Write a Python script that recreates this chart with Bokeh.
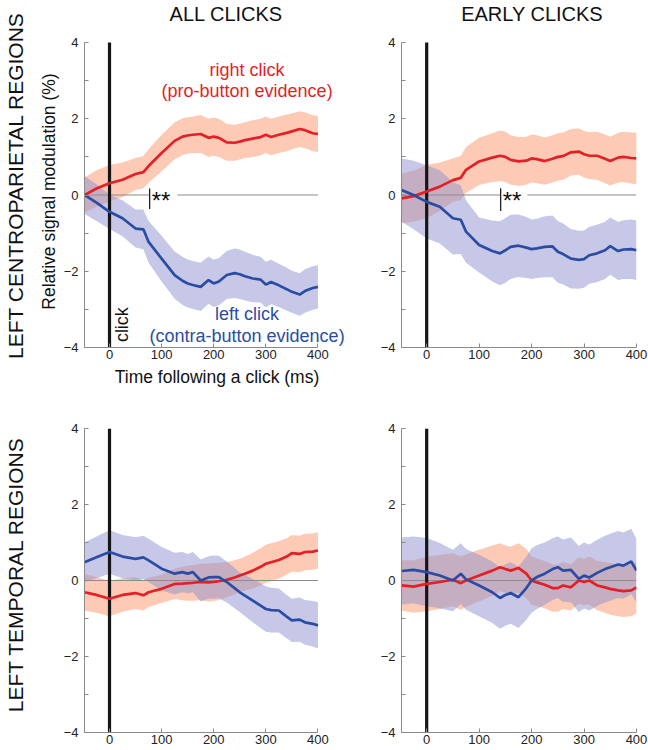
import numpy as np
from bokeh.plotting import figure
from bokeh.models import Range1d, Label, FixedTicker
from bokeh.layouts import column, row
from bokeh.embed import file_html
from bokeh.resources import INLINE

# ---------------- data ----------------
time_ms = [-48, -25, 0, 25, 50, 65, 75, 100, 125, 140, 150, 160, 175, 190, 200, 210,
           225, 240, 250, 260, 275, 290, 300, 310, 325, 340, 350, 365, 375, 390, 400]

# Left centroparietal, all clicks
cp_all_right_mean = [0.0, 0.17, 0.31, 0.40, 0.55, 0.60, 0.76, 1.10, 1.42, 1.53,
                     1.56, 1.58, 1.60, 1.50, 1.53, 1.50, 1.38, 1.37, 1.40, 1.44,
                     1.48, 1.52, 1.58, 1.52, 1.58, 1.63, 1.67, 1.73, 1.70, 1.62, 1.60]
cp_all_right_sem = [0.46, 0.48, 0.48, 0.45, 0.42, 0.42, 0.44, 0.48, 0.48, 0.48,
                    0.48, 0.48, 0.50, 0.50, 0.50, 0.50, 0.48, 0.47, 0.47, 0.47,
                    0.48, 0.48, 0.48, 0.48, 0.48, 0.48, 0.47, 0.47, 0.47, 0.47, 0.47]
cp_all_left_mean = [0.0, -0.20, -0.44, -0.61, -0.88, -0.90, -1.23, -1.67, -2.10, -2.25,
                    -2.32, -2.36, -2.41, -2.23, -2.32, -2.27, -2.10, -2.05, -2.08, -2.13,
                    -2.19, -2.22, -2.35, -2.28, -2.37, -2.47, -2.54, -2.61, -2.52, -2.44, -2.41]
cp_all_left_sem = [0.50, 0.48, 0.45, 0.47, 0.50, 0.52, 0.55, 0.60, 0.62, 0.63,
                   0.63, 0.63, 0.63, 0.62, 0.62, 0.62, 0.63, 0.65, 0.65, 0.64,
                   0.62, 0.60, 0.60, 0.58, 0.57, 0.56, 0.55, 0.56, 0.57, 0.57, 0.57]

# Left centroparietal, early clicks
cp_early_right_mean = [-0.09, -0.03, 0.09, 0.22, 0.39, 0.45, 0.66, 0.88, 0.98, 1.03,
                       1.00, 0.92, 0.88, 0.90, 0.96, 0.94, 0.89, 0.95, 1.00, 1.02,
                       1.12, 1.14, 1.07, 1.03, 1.03, 0.95, 0.89, 0.98, 1.00, 0.97, 0.96]
cp_early_right_sem = [0.65, 0.67, 0.70, 0.63, 0.57, 0.58, 0.60, 0.62, 0.64, 0.66,
                      0.66, 0.65, 0.64, 0.63, 0.63, 0.63, 0.62, 0.62, 0.62, 0.62,
                      0.61, 0.61, 0.61, 0.62, 0.63, 0.64, 0.64, 0.65, 0.66, 0.67, 0.68]
cp_early_left_mean = [0.13, 0.00, -0.18, -0.31, -0.61, -0.65, -0.96, -1.31, -1.47, -1.53,
                      -1.45, -1.36, -1.33, -1.38, -1.42, -1.40, -1.36, -1.35, -1.49, -1.55,
                      -1.67, -1.70, -1.68, -1.58, -1.53, -1.45, -1.34, -1.47, -1.43, -1.42, -1.45]
cp_early_left_sem = [0.83, 0.90, 0.96, 0.96, 0.95, 0.90, 0.82, 0.72, 0.80, 0.84,
                     0.85, 0.84, 0.82, 0.80, 0.78, 0.78, 0.80, 0.81, 0.81, 0.80,
                     0.78, 0.76, 0.75, 0.75, 0.75, 0.75, 0.75, 0.76, 0.77, 0.78, 0.78]

# Left temporal, all clicks
tmp_all_right_mean = [-0.31, -0.38, -0.48, -0.38, -0.33, -0.39, -0.31, -0.22, -0.09, -0.08,
                      -0.07, -0.06, -0.04, -0.05, -0.04, -0.02, 0.02, 0.08, 0.13, 0.18,
                      0.26, 0.36, 0.44, 0.48, 0.54, 0.63, 0.72, 0.70, 0.75, 0.76, 0.79]
tmp_all_right_sem = [0.48, 0.47, 0.46, 0.44, 0.42, 0.40, 0.39, 0.37, 0.40, 0.44,
                     0.46, 0.47, 0.48, 0.50, 0.50, 0.49, 0.47, 0.45, 0.44, 0.45,
                     0.47, 0.49, 0.50, 0.50, 0.49, 0.48, 0.48, 0.48, 0.48, 0.48, 0.48]
tmp_all_left_mean = [0.48, 0.61, 0.75, 0.63, 0.57, 0.61, 0.53, 0.31, 0.18, 0.22,
                     0.18, 0.22, 0.00, 0.08, 0.09, 0.09, -0.04, -0.20, -0.31, -0.40,
                     -0.53, -0.66, -0.75, -0.78, -0.79, -0.95, -1.05, -1.03, -1.10, -1.14, -1.18]
tmp_all_left_sem = [0.52, 0.55, 0.57, 0.57, 0.57, 0.57, 0.57, 0.57, 0.55, 0.53,
                    0.52, 0.53, 0.55, 0.56, 0.57, 0.56, 0.54, 0.53, 0.52, 0.54,
                    0.57, 0.59, 0.60, 0.59, 0.58, 0.57, 0.57, 0.58, 0.59, 0.60, 0.61]

# Left temporal, early clicks
tmp_early_right_mean = [-0.13, -0.16, -0.09, -0.04, 0.02, -0.07, 0.00, 0.13, 0.26, 0.35,
                        0.30, 0.26, 0.33, 0.18, 0.00, -0.05, -0.11, -0.20, -0.20, -0.13,
                        -0.18, 0.00, -0.04, 0.00, -0.13, -0.18, -0.22, -0.26, -0.28, -0.26, -0.18]
tmp_early_right_sem = [0.66, 0.69, 0.72, 0.71, 0.70, 0.70, 0.69, 0.68, 0.66, 0.63,
                       0.62, 0.63, 0.65, 0.65, 0.64, 0.63, 0.62, 0.62, 0.62, 0.62,
                       0.61, 0.61, 0.61, 0.63, 0.65, 0.67, 0.68, 0.68, 0.68, 0.68, 0.68]
tmp_early_left_mean = [0.25, 0.28, 0.22, 0.13, 0.00, 0.18, 0.03, -0.13, -0.31, -0.46,
                       -0.38, -0.33, -0.44, -0.20, 0.00, 0.09, 0.18, 0.30, 0.35, 0.26,
                       0.28, 0.04, 0.13, 0.08, 0.20, 0.30, 0.35, 0.42, 0.39, 0.50, 0.26]
tmp_early_left_sem = [0.88, 0.88, 0.90, 0.86, 0.81, 0.80, 0.80, 0.81, 0.81, 0.81,
                      0.81, 0.81, 0.81, 0.83, 0.85, 0.84, 0.82, 0.81, 0.81, 0.82,
                      0.85, 0.87, 0.87, 0.87, 0.87, 0.88, 0.88, 0.88, 0.87, 0.86, 0.83]

y_major_ticks = [-4, -2, 0, 2, 4]
y_minor_ticks = [-3, -1, 1, 3]
x_major_ticks = [0, 100, 200, 300, 400]
X_MIN, X_MAX = -48, 400          # axis limits (ms)
Y_MIN, Y_MAX = -4, 4             # axis limits (%)
click_time = 0
# significance marks: (time of bar, bar top, bar bottom, end of gap in zero line)
sig_all = (77, 0.17, -0.37, 130)
sig_early = (141, 0.18, -0.42, 192)

# ---------------- style ----------------
FONT = "Liberation Sans"
RED = "#e41f26"
BLUE = "#2a4da3"
RED_FILL = "#fa9f78"
BLUE_FILL = "#8f91cf"
AXIS_COLOR = "#8a8a8a"
TEXT = "#111111"


def make_panel(w, h, bl, br, bt, bb, x_end, y_end, rmean, rsem, lmean, lsem, sig=None):
    p = figure(width=w, height=h, x_range=Range1d(X_MIN, x_end), y_range=Range1d(Y_MIN, y_end),
               output_backend="svg", toolbar_location=None,
               min_border_left=bl, min_border_right=br,
               min_border_top=bt, min_border_bottom=bb)
    p.outline_line_color = None
    p.grid.visible = False
    p.background_fill_color = "white"
    p.border_fill_color = "white"

    t = np.array(time_ms, dtype=float)
    r = np.array(rmean); rs = np.array(rsem)
    l = np.array(lmean); ls = np.array(lsem)

    p.varea(x=t, y1=r - rs, y2=r + rs, fill_color=RED_FILL, fill_alpha=0.55)
    p.varea(x=t, y1=l - ls, y2=l + ls, fill_color=BLUE_FILL, fill_alpha=0.5)
    # zero reference line (with a gap where the significance mark sits)
    if sig is None:
        p.segment(x0=[X_MIN], y0=[0], x1=[X_MAX], y1=[0], line_color="#8c8c8c", line_width=1)
    else:
        p.segment(x0=[X_MIN, sig[3]], y0=[0, 0], x1=[sig[0], X_MAX], y1=[0, 0],
                  line_color="#8c8c8c", line_width=1)
    # click onset line
    p.segment(x0=[click_time], y0=[Y_MIN], x1=[click_time], y1=[Y_MAX],
              line_color="#151515", line_width=3.2)
    p.line(t, r, line_color=RED, line_width=2.7)
    p.line(t, l, line_color=BLUE, line_width=2.7)

    if sig is not None:
        p.segment(x0=[sig[0]], y0=[sig[1]], x1=[sig[0]], y1=[sig[2]],
                  line_color="#222222", line_width=1.3)
        p.add_layout(Label(x=sig[0] + 4, y=-0.15, text="**", text_font=FONT,
                           text_font_size="24px", text_color=TEXT,
                           text_align="left", text_baseline="alphabetic"))

    for ax in (p.xaxis[0], p.yaxis[0]):
        ax.axis_line_color = AXIS_COLOR
        ax.axis_line_width = 1
        ax.major_tick_line_color = AXIS_COLOR
        ax.minor_tick_line_color = AXIS_COLOR
        ax.major_tick_in = 4
        ax.major_tick_out = 0
        ax.minor_tick_in = 4
        ax.minor_tick_out = 0
        ax.major_label_text_font = FONT
        ax.major_label_text_font_size = "13px"
        ax.major_label_text_color = "#222222"
    p.yaxis[0].ticker = FixedTicker(ticks=y_major_ticks, minor_ticks=y_minor_ticks)
    p.xaxis[0].ticker = FixedTicker(ticks=x_major_ticks, minor_ticks=[])
    p.yaxis[0].bounds = (Y_MIN, Y_MAX)
    p.xaxis[0].bounds = (X_MIN, X_MAX)
    p.yaxis[0].major_label_standoff = 6
    p.xaxis[0].major_label_standoff = 2
    return p


def add_text(p, x, y, text, size, color=TEXT, angle=0.0, align="center", baseline="middle"):
    p.add_layout(Label(x=x, y=y, text=text, text_font=FONT, text_font_size=size,
                       text_color=color, angle=angle, text_align=align,
                       text_baseline=baseline))


# frames: left column 82..(349) px, right column 401..636 px; top frames reach the canvas top
X_END_LEFT = X_MIN + 267 / 0.525      # frame extends to the right edge of its canvas
Y_END_TOP = Y_MAX + 42 / 38.125       # frame extends to the top of the canvas

p1 = make_panel(289, 396, 22, 0, 0, 49, X_END_LEFT, Y_END_TOP,
                cp_all_right_mean, cp_all_right_sem, cp_all_left_mean, cp_all_left_sem,
                sig=sig_all)
p2 = make_panel(299, 396, 52, 12, 0, 49, X_MAX, Y_END_TOP,
                cp_early_right_mean, cp_early_right_sem, cp_early_left_mean, cp_early_left_sem,
                sig=sig_early)
p3 = make_panel(289, 354, 22, 0, 32, 18, X_END_LEFT, Y_MAX,
                tmp_all_right_mean, tmp_all_right_sem, tmp_all_left_mean, tmp_all_left_sem)
p4 = make_panel(299, 354, 52, 12, 32, 18, X_MAX, Y_MAX,
                tmp_early_right_mean, tmp_early_right_sem, tmp_early_left_mean, tmp_early_left_sem)

# x axis title (top-left panel)
p1.xaxis[0].axis_label = "Time following a click (ms)"
p1.xaxis[0].axis_label_text_font = FONT
p1.xaxis[0].axis_label_text_font_size = "17.5px"
p1.xaxis[0].axis_label_text_font_style = "normal"
p1.xaxis[0].axis_label_text_color = TEXT
p1.xaxis[0].axis_label_standoff = 5

# column titles
add_text(p1, 224, 4.75, "ALL CLICKS", "20px")
add_text(p2, 201, 4.75, "EARLY CLICKS", "20px")

# series annotations
add_text(p1, 264, 3.27, "right click", "18px", color=RED)
add_text(p1, 264, 2.72, "(pro-button evidence)", "18px", color=RED)
add_text(p1, 264, -3.11, "left click", "18px", color=BLUE)
add_text(p1, 264, -3.71, "(contra-button evidence)", "18px", color=BLUE)
add_text(p1, 24, -3.40, "click", "18px", angle=np.pi / 2)

# left strip holding the row labels and the y axis title (pixel coordinates)
strip = figure(width=60, height=750, x_range=Range1d(0, 60), y_range=Range1d(750, 0),
               x_axis_location=None, y_axis_location=None, output_backend="svg",
               toolbar_location=None, min_border_left=0, min_border_right=0,
               min_border_top=0, min_border_bottom=0)
strip.outline_line_color = None
strip.grid.visible = False
add_text(strip, 15, 185, "LEFT CENTROPARIETAL REGIONS", "21px", angle=np.pi / 2)
add_text(strip, 15, 574, "LEFT TEMPORAL REGIONS", "21px", angle=np.pi / 2)
add_text(strip, 48, 191, "Relative signal modulation (%)", "17.5px", angle=np.pi / 2)

layout = row(strip, column(p1, p3), column(p2, p4))
open("out.html", "w").write(file_html(layout, INLINE))
